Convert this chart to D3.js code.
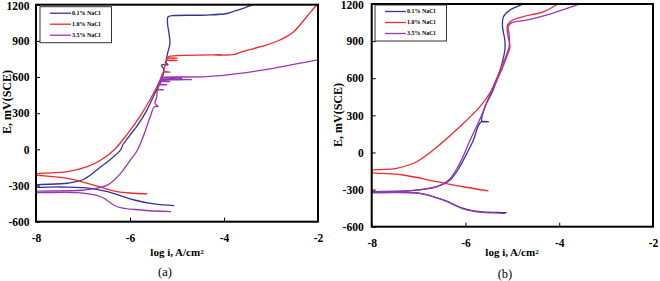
<!DOCTYPE html>
<html>
<head>
<meta charset="utf-8">
<script src="https://cdn.jsdelivr.net/npm/d3@7"></script>
<style>
body { margin: 0; background: #fff; }
svg { display: block; }
text { font-family: "Liberation Serif", "Times New Roman", serif; }
</style>
</head>
<body>
<script>
// log i (A/cm2) , E (mV vs SCE)  -- each curve: cathodic end -> off left edge -> anodic end
var seriesNames = ["0.1% NaCl", "1.0% NaCl", "3.5% NaCl"];
var xTicks = [-8, -6, -4, -2];
var yTicks = [-600, -300, 0, 300, 600, 900, 1200];

// panel (a)
var aLow = [[-5.06,-467],[-5.49,-453],[-5.91,-420],[-6.48,-351],[-6.98,-318],[-7.5,-312],[-8.1,-310],
    [-8.1,-301],[-7.33,-281],[-6.98,-248],[-6.62,-144],[-6.43,-88],[-6.2,-5],[-6.15,40],[-6.1,66],
    [-6.0,119],[-5.86,188],[-5.64,326],[-5.47,465],[-5.33,575],[-5.28,660],[-5.33,700],[-5.19,702],
    [-5.23,720],[-5.2,797],[-5.15,880],[-5.17,960],[-5.2,1040],[-5.19,1100],[-5.1,1109],[-4.37,1114],
    [-3.94,1127],[-3.77,1148],[-3.59,1170],[-3.38,1200],[-3.3,1215]];
var aMid = [[-5.63,-370],[-5.91,-364],[-6.27,-351],[-6.77,-296],[-7.33,-240],[-8.1,-207],
    [-8.1,-205],[-7.33,-185],[-6.91,-144],[-6.62,-88],[-6.34,-5],[-6.07,120],[-5.79,271],[-5.5,465],
    [-5.36,575],[-5.29,640],[-5.15,641],[-5.28,645],[-5.26,686],[-5.23,735],[-5.0,737],[-5.22,742],
    [-5.2,755],[-5.0,756],[-5.19,760],[-5.18,769],[-4.3,783],[-4.05,786],[-4.25,783],[-3.77,788],
    [-3.66,805],[-3.09,866],[-2.81,907],[-2.53,971],[-2.24,1100],[-2.03,1197],[-1.98,1215]];
var aHigh = [[-5.13,-517],[-5.77,-503],[-6.27,-476],[-6.62,-393],[-7.12,-359],[-8.1,-355],
    [-8.1,-351],[-6.98,-337],[-6.48,-296],[-6.2,-199],[-5.99,-88],[-5.84,-5],[-5.72,105],[-5.57,271],
    [-5.48,354],[-5.4,355],[-5.47,382],[-5.43,437],[-5.41,492],[-5.29,494],[-5.4,500],[-5.39,534],
    [-5.22,536],[-5.38,540],[-5.37,561],[-5.15,563],[-5.36,566],[-5.35,575],[-4.69,578],[-5.34,583],
    [-5.33,589],[-4.9,590],[-5.32,594],[-5.29,598],[-4.37,603],[-3.66,631],[-2.95,672],[-2.03,741],
    [-1.98,743]];

// panel (b)
var bLow = [[-5.12,-487],[-5.3,-485],[-5.69,-479],[-6.05,-451],[-6.47,-384],[-6.97,-330],[-7.5,-323],
    [-8.1,-322],[-8.1,-320],[-7.18,-309],[-6.61,-277],[-6.33,-223],[-6.12,-115],[-5.97,-7],[-5.83,101],
    [-5.72,220],[-5.66,249],[-5.51,249],[-5.65,252],[-5.58,370],[-5.41,505],[-5.26,667],[-5.16,828],
    [-5.16,909],[-5.21,1017],[-5.19,1097],[-5.05,1152],[-4.77,1200],[-4.7,1215]];
var bMid = [[-5.51,-311],[-6.05,-277],[-6.61,-236],[-7.33,-182],[-8.1,-155],
    [-8.1,-148],[-7.47,-128],[-7.04,-75],[-6.72,10],[-6.12,208],[-5.69,370],[-5.44,505],[-5.26,640],
    [-5.12,774],[-5.05,855],[-5.09,936],[-5.11,1017],[-5.05,1057],[-4.77,1097],[-4.34,1137],
    [-4.02,1200],[-3.95,1212]];
var bHigh = [[-5.15,-492],[-5.3,-490],[-5.69,-482],[-6.05,-455],[-6.47,-386],[-6.97,-331],[-8.1,-323],
    [-8.1,-321],[-7.18,-310],[-6.61,-276],[-6.35,-220],[-6.16,-115],[-6.02,-7],[-5.9,101],[-5.73,236],
    [-5.44,505],[-5.23,693],[-5.07,855],[-5.07,963],[-5.09,1017],[-5.01,1049],[-4.7,1070],[-4.2,1119],
    [-3.56,1200],[-3.5,1208]];

var colors = ["#32339b", "#ee2a2a", "#9a36b4"];
var serif = '"Liberation Serif", "Times New Roman", serif';

var panels = [
    {name: "(a)", data: [aLow, aMid, aHigh], left: 36, right: 318, top: 4.7, bottom: 221.7, pad: 6.5,
     legX: 40, legY: 6.7, labX: 6.5, labY: 102, capX: 165, capY: 272, xlabX: 177},
    {name: "(b)", data: [bLow, bMid, bHigh], left: 371.7, right: 653, top: 4, bottom: 226.7, pad: 8,
     legX: 375, legY: 5, labX: 338, labY: 115, capX: 505, capY: 274, xlabX: 512}
];

var svg = d3.select("body").append("svg")
    .attr("width", 660)
    .attr("height", 281);

panels.forEach(function(p, pi) {
    var x = d3.scaleLinear().domain([-8, -2]).range([p.left, p.right]);
    var y = d3.scaleLinear().domain([-600, 1200]).range([p.bottom, p.top]);
    var g = svg.append("g");

    g.append("clipPath").attr("id", "clip" + pi)
        .append("rect")
        .attr("x", p.left).attr("y", p.top)
        .attr("width", p.right - p.left).attr("height", p.bottom - p.top);

    var line = d3.line()
        .x(function(d) { return x(d[0]); })
        .y(function(d) { return y(d[1]); })
        .curve(d3.curveCatmullRom.alpha(0.5));

    g.append("g").attr("clip-path", "url(#clip" + pi + ")")
        .selectAll("path")
        .data(p.data)
        .enter().append("path")
        .attr("d", line)
        .attr("fill", "none")
        .attr("stroke", function(d, i) { return colors[i]; })
        .attr("stroke-width", 1.3)
        .attr("stroke-linejoin", "round");

    var xAxis = g.append("g")
        .attr("transform", "translate(0," + p.bottom + ")")
        .call(d3.axisBottom(x).tickValues(xTicks)
            .tickSizeInner(-4).tickSizeOuter(0).tickPadding(12.5)
            .tickFormat(function(d) { return String(d); }));
    var yAxis = g.append("g")
        .attr("transform", "translate(" + p.left + ",0)")
        .call(d3.axisLeft(y).tickValues(yTicks)
            .tickSizeInner(-4).tickSizeOuter(0).tickPadding(p.pad)
            .tickFormat(function(d) { return String(d); }));
    [xAxis, yAxis].forEach(function(a) {
        a.attr("font-family", serif);
        a.select(".domain").remove();
        a.selectAll("line").attr("stroke", "#000");
        a.selectAll("text")
            .attr("fill", "#000")
            .style("font-family", serif)
            .style("font-size", "11.5px")
            .style("font-weight", "bold");
    });
    // keep the top label inside the picture
    yAxis.selectAll("text").filter(function(d) { return d === 1200; }).attr("y", 1);

    g.append("rect")
        .attr("x", p.left).attr("y", p.top)
        .attr("width", p.right - p.left).attr("height", p.bottom - p.top)
        .attr("fill", "none")
        .attr("stroke", "#000")
        .attr("stroke-width", 2);

    // legend
    var leg = g.append("g").attr("transform", "translate(" + p.legX + "," + p.legY + ")");
    leg.append("rect")
        .attr("width", 71.5).attr("height", 36)
        .attr("fill", "#fff")
        .attr("stroke", "#333")
        .attr("stroke-width", 1);
    var row = leg.selectAll(".row").data(seriesNames).enter().append("g")
        .attr("transform", function(d, i) { return "translate(0," + (6.5 + i * 11) + ")"; });
    row.append("line")
        .attr("x1", 10).attr("x2", 31)
        .attr("stroke", function(d, i) { return colors[i]; })
        .attr("stroke-width", 1.3);
    row.append("text")
        .attr("x", 32).attr("dy", "0.33em")
        .style("font-size", "6px")
        .style("font-weight", "bold")
        .text(function(d) { return d; });

    g.append("text")
        .attr("transform", "translate(" + p.labX + "," + p.labY + ") rotate(-90)")
        .attr("text-anchor", "middle")
        .attr("dy", "0.35em")
        .style("font-size", "12px")
        .style("font-weight", "bold")
        .text("E, mV(SCE)");

    var xl = g.append("text")
        .attr("x", p.xlabX).attr("y", 252.5)
        .attr("text-anchor", "middle")
        .attr("dy", "0.35em")
        .style("font-size", "11px")
        .style("font-weight", "bold")
        .text("log i, A/cm");
    xl.append("tspan").attr("dy", "-0.4em").style("font-size", "7px").text("2");

    g.append("text")
        .attr("x", p.capX).attr("y", p.capY)
        .attr("text-anchor", "middle")
        .attr("dy", "0.35em")
        .style("font-size", "12.5px")
        .text(p.name);
});
</script>
</body>
</html>
